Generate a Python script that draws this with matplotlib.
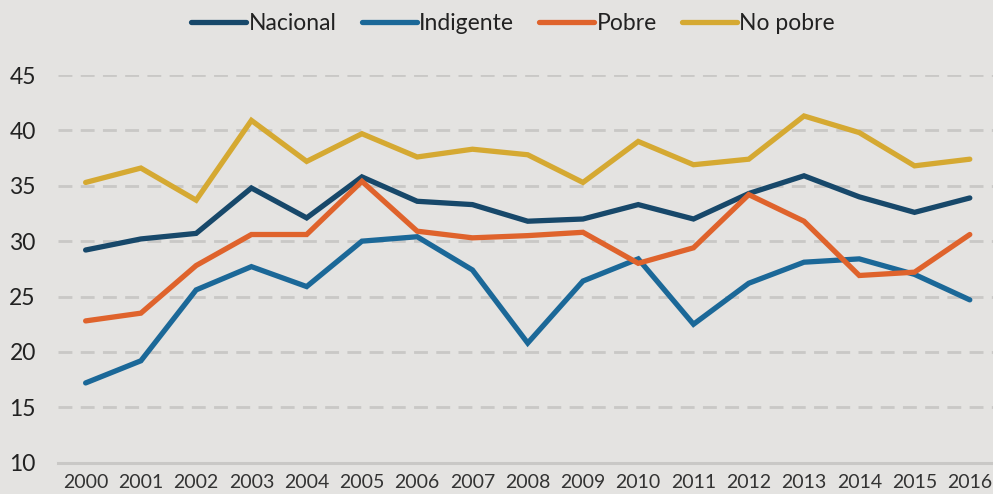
import matplotlib

matplotlib.use("Agg")
import matplotlib.pyplot as plt

plt.rcParams["font.family"] = ["Lato", "DejaVu Sans"]

YEARS = list(range(2000, 2017))
NACIONAL = [29.2, 30.2, 30.7, 34.8, 32.1, 35.8, 33.6, 33.3, 31.8, 32.0, 33.3, 32.0, 34.3, 35.9, 34.0, 32.6, 33.9]
INDIGENTE = [17.2, 19.2, 25.6, 27.7, 25.9, 30.0, 30.4, 27.4, 20.8, 26.4, 28.4, 22.5, 26.2, 28.1, 28.4, 27.0, 24.7]
POBRE = [22.8, 23.5, 27.8, 30.6, 30.6, 35.4, 30.9, 30.3, 30.5, 30.8, 28.0, 29.4, 34.2, 31.8, 26.9, 27.2, 30.6]
NO_POBRE = [35.3, 36.6, 33.7, 40.9, 37.2, 39.7, 37.6, 38.3, 37.8, 35.3, 39.0, 36.9, 37.4, 41.3, 39.8, 36.8, 37.4]

SERIES = [
    ("Nacional", NACIONAL, "#17486a"),
    ("Indigente", INDIGENTE, "#1b6898"),
    ("Pobre", POBRE, "#df632c"),
    ("No pobre", NO_POBRE, "#d5a932"),
]

BG = "#e4e3e1"
GRID = "#c9c8c6"

fig = plt.figure(figsize=(9.93, 4.94), dpi=100, facecolor=BG)
ax = fig.add_axes([58 / 993, 31.3 / 494, 935 / 993, 387.7 / 494], facecolor=BG)

x = list(range(len(YEARS)))
for name, values, color in SERIES:
    ax.plot(x, values, color=color, lw=3.8, label=name, solid_capstyle="round", solid_joinstyle="miter")

ax.set_ylim(10, 45)
ax.set_xlim(-0.5, 16.42)
ax.set_yticks([10, 15, 20, 25, 30, 35, 40, 45])
ax.set_xticks(x)
ax.set_xticklabels([str(y) for y in YEARS], fontsize=14, color="#333333")
ax.tick_params(axis="y", labelsize=16.5, colors="#222222", length=0, pad=16)
ax.tick_params(axis="x", length=0, pad=8)

for val in [15, 20, 25, 30, 35, 40, 45]:
    ax.axhline(val, color=GRID, lw=2, ls=(0, (5, 3)), zorder=0)
ax.axhline(10, color=GRID, lw=2.2, zorder=0, clip_on=False)

for spine in ax.spines.values():
    spine.set_visible(False)

fig.legend(
    loc="center",
    bbox_to_anchor=(513 / 993, 1 - 24 / 494),
    ncols=4,
    frameon=False,
    fontsize=16.5,
    handlelength=2.4,
    handletextpad=0.1,
    columnspacing=1.1,
    labelcolor="#222222",
)

fig.savefig("out.png", dpi=100, facecolor=BG)
